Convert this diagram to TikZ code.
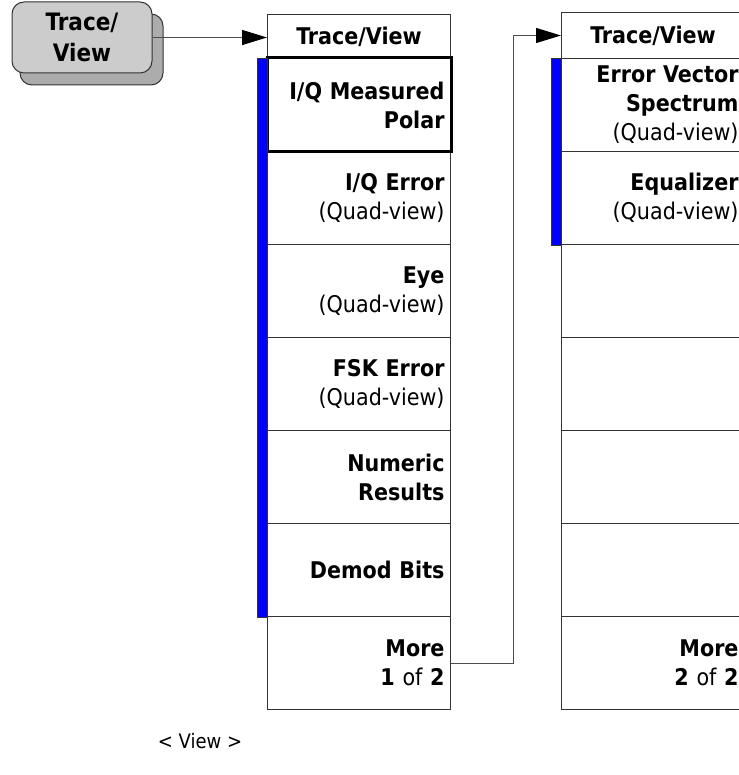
\documentclass[tikz,border=0pt]{standalone}
\usepackage{fontspec}
\setmainfont{DejaVu Sans Condensed}
\usetikzlibrary{arrows.meta,positioning}

\begin{document}
\begin{tikzpicture}[x=1pt,y=-1pt,
    menukey/.style={draw=black!80, line width=1pt, minimum width=183pt, minimum height=93pt,
      anchor=north west, inner sep=0pt, text width=171pt, align=right,
      font=\fontsize{23}{29}\selectfont\bfseries},
    menuhead/.style={draw=black!80, line width=1pt, minimum width=183pt, minimum height=44pt,
      anchor=north west, inner sep=0pt, align=center, font=\fontsize{23}{29}\selectfont\bfseries},
    hardkey/.style={draw=black!80, line width=1pt, fill=gray!40, rounded corners=12pt,
      minimum width=140pt, minimum height=71pt, align=center, inner sep=0pt,
      font=\fontsize{24}{31}\selectfont\bfseries},
    conn/.style={draw=black!70, line width=1pt, -{Triangle[length=25pt,width=15pt,color=black]}},
    selbar/.style={fill=blue, draw=black!80, line width=0.6pt}]
    \useasboundingbox (0,0) rectangle (738,775);

    % 硬键及其阴影
    \filldraw[fill=gray!65, draw=black!80, line width=1pt, rounded corners=12pt] (20,14) rectangle (163,85);
    \node[hardkey] (tvkey) at (82,37.5) {Trace/\\View};

    % 第一页菜单
    \node[menuhead] (lhead) at (267,14) {Trace/View};
    \foreach \lab [count=\i from 0] in {{I/Q Measured\\Polar},{I/Q Error\\{\mdseries (Quad-view)}},
        {Eye\\{\mdseries (Quad-view)}},{FSK Error\\{\mdseries (Quad-view)}},{Numeric\\Results},
        {Demod Bits},{More\\{\mdseries{\bfseries 1} of {\bfseries 2}}}}
      \node[menukey] (lrow\i) at (267,{58+93*\i}) {\lab};
    \draw[line width=3pt] (lrow0.north west) rectangle (lrow0.south east);
    \draw[selbar] (257,58) rectangle (lrow5.south west);

    % 第二页菜单
    \node[menuhead, minimum height=46pt] (rhead) at (561,12) {Trace/View};
    \foreach \lab [count=\i from 0] in {{Error Vector\\Spectrum\\{\mdseries (Quad-view)}},
        {Equalizer\\{\mdseries (Quad-view)}},{},{},{},{},{More\\{\mdseries{\bfseries 2} of {\bfseries 2}}}}
      \node[menukey] (rrow\i) at (561,{58+93*\i}) {\lab};
    \draw[selbar] (551,58) rectangle (rrow1.south west);

    % 连线
    \draw[conn] (tvkey.east) -- (tvkey.east -| lhead.west);
    \draw[conn] (lrow6.east) -- ++(62,0) |- (rhead.west);

    % 标注
    \node[font=\fontsize{20}{22}\selectfont] (viewtag) at (200,741) {< View >};
\end{tikzpicture}
\end{document}
